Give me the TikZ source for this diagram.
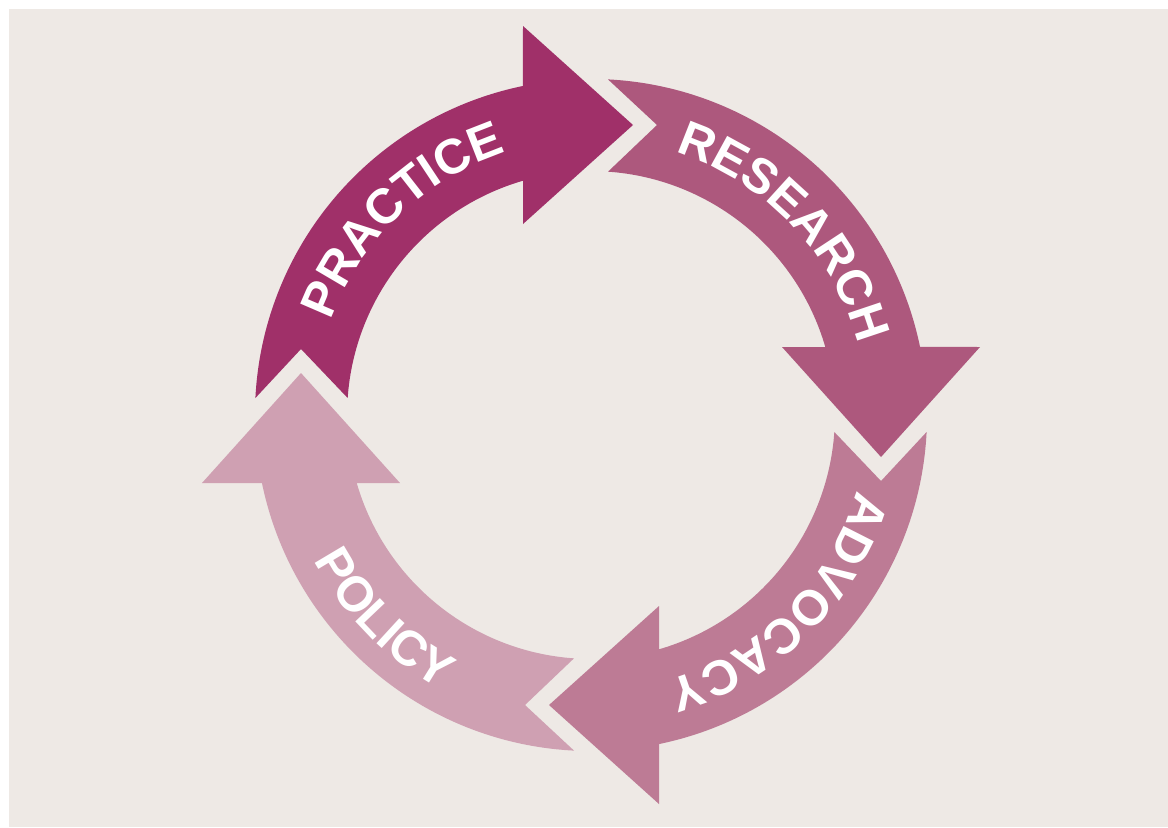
\documentclass[tikz,border=0pt]{standalone}
\usepackage{fontspec}
\setmainfont{Liberation Sans}
\usetikzlibrary{decorations.text}
\definecolor{bgbeige}{HTML}{EEE9E5}
\definecolor{practicecol}{HTML}{A03069}
\definecolor{researchcol}{HTML}{AD587D}
\definecolor{advocacycol}{HTML}{BD7B95}
\definecolor{policycol}{HTML}{CFA0B2}
\newcommand{\cyclefont}{\fontsize{14}{14}\selectfont\bfseries\color{white}}

\begin{document}
\begin{tikzpicture}[x=0.01cm,y=0.01cm,
		ringtext/.style={decorate,decoration={text along path,text align=center,text={|\cyclefont|#1}}}]
	\useasboundingbox (-591,-412) rectangle (577,415);
	\fill[bgbeige] (-582,-412) rectangle (577,406);
	\foreach \a/\col in {0/practicecol,-90/researchcol,-180/advocacycol,-270/policycol}
		\fill[\col,rotate=\a] (-335.6,17) arc[start angle=177.1,end angle=101.7,radius=336]
			-- (-68,389) -- (42,290) -- (-68,191) -- (-68,234.3)
			arc[start angle=106.2,end angle=176,radius=244] -- (-290,66) -- cycle;
	\path[ringtext=PRACTICE] (179:276) arc[start angle=179,end angle=89,radius=276];
	\path[ringtext=RESEARCH] (88.5:276) arc[start angle=88.5,end angle=-1.5,radius=276];
	\path[ringtext=ADVOCACY] (0:276) arc[start angle=0,end angle=-90,radius=276];
	\path[ringtext=POLICY] (180:313) arc[start angle=180,end angle=269,radius=313];
\end{tikzpicture}
\end{document}
